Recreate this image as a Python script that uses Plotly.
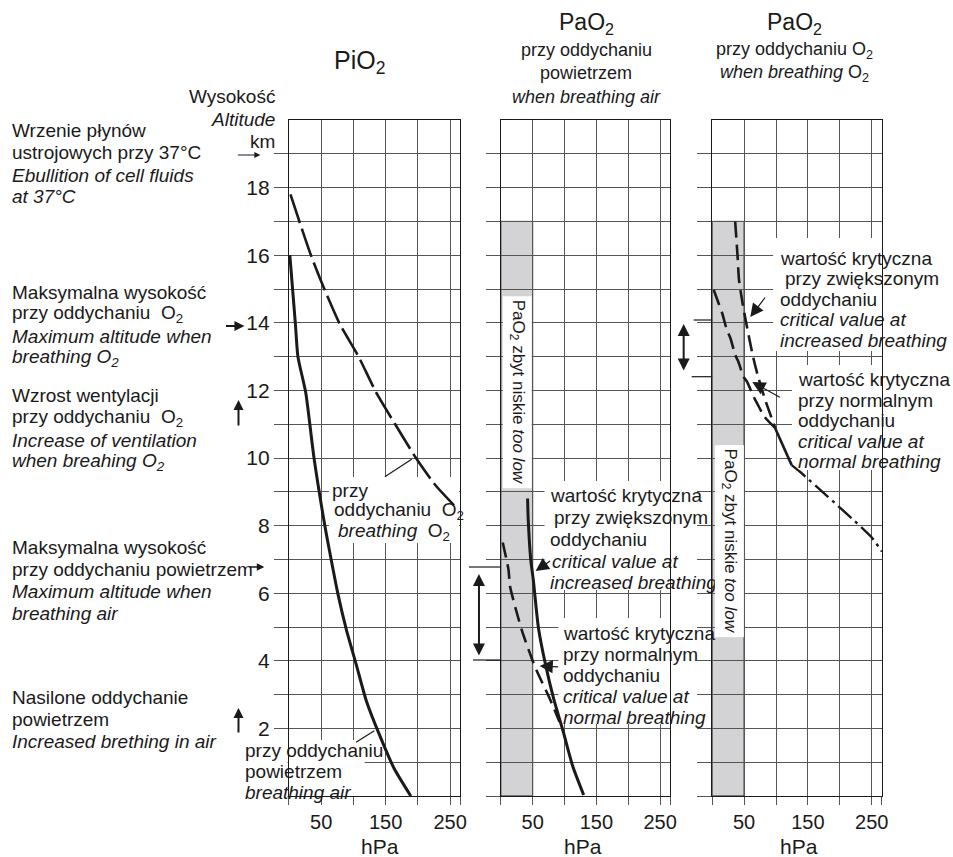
import plotly.graph_objects as go

# ---------------- data ----------------
altitude_labelled = [2, 4, 6, 8, 10, 12, 14, 16, 18]   # km, labelled ticks
altitude_grid = list(range(0, 20))                      # km, one grid line per km
pressure_labelled = [50, 150, 250]                      # hPa, labelled ticks
pressure_grid = [0, 100, 200, 266]                      # hPa, unlabelled ticks

# PiO2 – inspired O2 pressure
pio2_air_km = [16.0, 14.0, 13.0, 11.95, 10.0, 7.97, 6.95, 5.98, 4.93, 3.85, 2.82, 1.83, 0.82, 0.0]
pio2_air_hpa = [1.5, 10, 14, 26, 39, 56, 66, 76, 89, 105, 120, 140, 163, 189]
pio2_o2_km = [17.8, 16.06, 15.0, 13.96, 13.0, 11.95, 10.96, 10.0, 9.2, 8.6]
pio2_o2_hpa = [2.5, 33, 55, 79, 108, 135, 166, 197, 227, 256]

# PaO2 when breathing air
pao2_air_increased_km = [8.8, 8.17, 6.98, 6.39, 4.98, 3.9, 2.87, 1.9, 0.87, 0.03]
pao2_air_increased_hpa = [42, 43, 47, 51, 59, 70, 83, 98, 113, 130]
pao2_air_normal_km = [7.5, 6.7, 6.2, 4.9, 3.83, 2.87, 2.2]
pao2_air_normal_hpa = [3, 12, 14.5, 33, 53.5, 77, 92]

# PaO2 when breathing O2
pao2_o2_increased_km = [17.0, 15.9, 15.27, 14.53, 13.88, 13.0, 12.4, 11.72, 11.03, 10.89]
pao2_o2_increased_hpa = [36, 40, 42, 48, 54.5, 64, 72, 83, 96, 98.5]
pao2_o2_normal_km = [14.97, 14.58, 14.29, 13.79, 13.55, 13.05, 12.85, 12.41, 12.26, 11.81, 11.63, 11.22, 10.89]
pao2_o2_normal_hpa = [2.5, 10, 15.6, 23, 28.5, 36, 41, 49, 54.5, 65, 70, 82, 98.5]
pao2_o2_joint_km = [10.89, 9.79]
pao2_o2_joint_hpa = [98.5, 124.5]
pao2_o2_tail_km = [9.79, 9.6, 8.86, 8.31, 7.67, 7.23]
pao2_o2_tail_hpa = [124.5, 137, 181, 213, 249, 266]

# too-low PaO2 band
lowband_hpa = 50
lowband_top_km = 17

# ---------------- layout helpers ----------------
W, H = 953, 857
BODY = "Liberation Sans, Arial, sans-serif"
INK = "#1a1a1a"
GRID = "#555555"

PANEL_LEFT = [290.7, 504.0, 716.7]
PANEL_SCALE = [0.6492, 0.6412, 0.6424]   # px per hPa
HPA_MAX = 266
Y_TOP, Y_BOT = 120.0, 796.0
KM_MAX = 20


def fx(x):
    return x / W


def fy(y):
    return 1 - y / H


def to_hpa(i, x):
    return (x - PANEL_LEFT[i]) / PANEL_SCALE[i]


def to_km(y):
    return (Y_BOT - y) / (Y_BOT - Y_TOP) * KM_MAX


fig = go.Figure()

axref = [("x", "y"), ("x2", "y2"), ("x3", "y3")]


def curve(i, hpa, km, dash="solid", width=3):
    xa, ya = axref[i]
    fig.add_trace(go.Scatter(
        x=hpa, y=km, xaxis=xa, yaxis=ya, mode="lines",
        line=dict(color=INK, width=width, dash=dash, shape="spline", smoothing=0.6),
        hoverinfo="skip", showlegend=False))


curve(0, pio2_air_hpa, pio2_air_km)
curve(0, pio2_o2_hpa, pio2_o2_km, dash="30px,6px", width=2.6)
curve(1, pao2_air_increased_hpa, pao2_air_increased_km)
curve(1, pao2_air_normal_hpa, pao2_air_normal_km, dash="15px,7px", width=2.6)
curve(2, pao2_o2_increased_hpa, pao2_o2_increased_km, dash="16px,7px", width=2.6)
curve(2, pao2_o2_normal_hpa, pao2_o2_normal_km, dash="16px,7px", width=2.6)
curve(2, pao2_o2_joint_hpa, pao2_o2_joint_km, width=2.6)
curve(2, pao2_o2_tail_hpa, pao2_o2_tail_km, dash="18px,5px,3px,5px", width=2.4)

# ---------------- axes ----------------
ydom = [fy(Y_BOT), fy(Y_TOP)]
for i in range(3):
    L = PANEL_LEFT[i]
    R = L + HPA_MAX * PANEL_SCALE[i]
    sfx = "" if i == 0 else str(i + 1)
    fig.layout["xaxis" + sfx] = dict(
        domain=[fx(L), fx(R)], range=[0, HPA_MAX], anchor="y" + sfx,
        tickmode="array", tickvals=pressure_labelled,
        ticks="outside", ticklen=8, tickcolor=GRID, tickwidth=1,
        tickfont=dict(family=BODY, size=20, color=INK),
        minor=dict(tickmode="array", tickvals=pressure_grid, ticks="outside", ticklen=8,
                   tickcolor=GRID, tickwidth=1, showgrid=True, gridcolor=GRID, gridwidth=1),
        showgrid=True, gridcolor=GRID, gridwidth=1, zeroline=False,
        showline=True, mirror=True, linecolor=INK, linewidth=1.2, fixedrange=True)
    fig.layout["yaxis" + sfx] = dict(
        domain=ydom, range=[0, KM_MAX], anchor="x" + sfx,
        tickmode="array", tickvals=altitude_labelled, showticklabels=(i == 0),
        ticks="outside", ticklen=14, tickcolor=GRID, tickwidth=1,
        tickfont=dict(family=BODY, size=21, color=INK),
        minor=dict(tickmode="array", tickvals=altitude_grid, ticks="outside", ticklen=14,
                   tickcolor=GRID, tickwidth=1, showgrid=True, gridcolor=GRID, gridwidth=1),
        showgrid=True, gridcolor=GRID, gridwidth=1, zeroline=False,
        showline=True, mirror=True, linecolor=INK, linewidth=1.2, fixedrange=True)

# ---------------- shapes ----------------
shapes = []
for i in (1, 2):
    xa, ya = axref[i]
    shapes.append(dict(type="rect", xref=xa, yref=ya, x0=0, x1=lowband_hpa, y0=0,
                       y1=lowband_top_km, fillcolor="#d3d3d5",
                       line=dict(color=INK, width=1), layer="below"))


def white_box(i, x0, y0, x1, y1):
    xa, ya = axref[i]
    shapes.append(dict(type="rect", xref=xa, yref=ya,
                       x0=max(0, to_hpa(i, x0)), x1=min(HPA_MAX, to_hpa(i, x1)),
                       y0=max(0, to_km(y1)), y1=min(KM_MAX, to_km(y0)),
                       fillcolor="white", line=dict(width=0), layer="between"))


white_box(0, 331, 477, 462, 543)
white_box(0, 243, 740, 367, 800)
white_box(1, 548, 481, 676, 590)
white_box(1, 562, 618, 676, 724)
white_box(2, 778, 238, 890, 351)
white_box(2, 797, 365, 890, 470)
# white patch left of the first panel under its lower label
shapes.append(dict(type="rect", xref="paper", yref="paper", x0=fx(243), x1=fx(289.3),
                   y0=fy(800), y1=fy(740), fillcolor="white", line=dict(width=0), layer="above"))


def seg(x0, y0, x1, y1, w=1.2):
    shapes.append(dict(type="line", xref="paper", yref="paper",
                       x0=fx(x0), y0=fy(y0), x1=fx(x1), y1=fy(y1),
                       line=dict(color=INK, width=w), layer="above"))


# leader lines
seg(387.3, 476.7, 414.3, 459.3)
seg(358.3, 742.3, 376.7, 730.7)
# level markers beside the double arrows
seg(472, 567, 504, 567)
seg(476, 660, 504, 660)
seg(698, 320, 716.7, 320)
seg(696, 376.7, 716.7, 376.7)

fig.update_layout(shapes=shapes)

# ---------------- text ----------------
ann = []


def txt(x, y, s, anchor="left", size=19, family=BODY):
    ann.append(dict(x=fx(x), y=fy(y), xref="paper", yref="paper", text=s, showarrow=False,
                    xanchor=anchor, yanchor="middle",
                    font=dict(family=family, size=size, color=INK)))


def arrow(xh, yh, xt, yt, w=1.5, size=1.0, head=2, both=False):
    d = dict(x=fx(xh), y=fy(yh), xref="paper", yref="paper", text="", showarrow=True,
             ax=xt - xh, ay=yt - yh, arrowhead=head, arrowsize=size, arrowwidth=w,
             arrowcolor=INK, standoff=0, startstandoff=0)
    if both:
        d.update(arrowside="end+start", startarrowhead=head, startarrowsize=size)
    ann.append(d)


# titles
txt(362, 62, "PiO<sub>2</sub>", "center", 25)
txt(590, 24, "PaO<sub>2</sub>", "center", 23)
txt(590, 50, "przy oddychaniu", "center", 18)
txt(590, 73, "powietrzem", "center", 18)
txt(590, 97, "<i>when breathing air</i>", "center", 18)
txt(800, 24, "PaO<sub>2</sub>", "center", 23)
txt(800, 50, "przy oddychaniu O<sub>2</sub>", "center", 18)
txt(800, 74, "<i>when breathing</i> O<sub>2</sub>", "center", 18)

# altitude axis caption
txt(279, 97, "Wysokość", "right")
txt(279, 119, "<i>Altitude</i>", "right")
txt(279, 141, "km", "right")

# hPa captions
for cx in (382, 587, 804):
    txt(cx, 846, "hPa", "center", 21)

# left-hand descriptions
left_blocks = [
    (131, ["Wrzenie płynów", "ustrojowych przy 37°C",
           "<i>Ebullition of cell fluids</i>", "<i>at 37°C</i>"]),
    (292, ["Maksymalna wysokość", "przy oddychaniu  O<sub>2</sub>",
           "<i>Maximum altitude when</i>", "<i>breathing O<sub>2</sub></i>"]),
    (396, ["Wzrost wentylacji", "przy oddychaniu  O<sub>2</sub>",
           "<i>Increase of ventilation</i>", "<i>when breahing O<sub>2</sub></i>"]),
    (547, ["Maksymalna wysokość", "przy oddychaniu powietrzem",
           "<i>Maximum altitude when</i>", "<i>breathing air</i>"]),
    (697, ["Nasilone oddychanie", "powietrzem", "<i>Increased brething in air</i>"]),
]
for y0, lines in left_blocks:
    for k, s in enumerate(lines):
        txt(10, y0 + 22 * k, s)

# labels inside the PiO2 panel
txt(352, 490, "przy", "center")
txt(334, 511, "oddychaniu  O<sub>2</sub>")
txt(338, 532, "<i>breathing</i>  O<sub>2</sub>")
txt(245, 750, "przy oddychaniu")
txt(245, 771, "powietrzem")
txt(245, 792, "<i>breathing air</i>")


# critical-value notes
def note(x, y0, lines, step=21):
    for k, (dx, s) in enumerate(lines):
        txt(x + dx, y0 + step * k, s)


note(551, 496, [(0, "wartość krytyczna"), (4, "przy zwiększonym"), (0, "oddychaniu"),
                (2, "<i>critical value at</i>"), (0, "<i>increased breathing</i>")], 21.7)
note(565, 633, [(0, "wartość krytyczna"), (0, "przy normalnym"), (0, "oddychaniu"),
                (0, "<i>critical value at</i>"), (0, "<i>normal breathing</i>")], 21)
note(783, 258, [(0, "wartość krytyczna"), (5, "przy zwiększonym"), (0, "oddychaniu"),
                (0, "<i>critical value at</i>"), (0, "<i>increased breathing</i>")], 20.5)
note(801, 380, [(0, "wartość krytyczna"), (0, "przy normalnym"), (0, "oddychaniu"),
                (0, "<i>critical value at</i>"), (0, "<i>normal breathing</i>")], 20.5)

# rotated labels inside the grey band
for cx, cy in ((520.5, 392), (734, 541)):
    ann.append(dict(x=fx(cx), y=fy(cy), xref="paper", yref="paper",
                    text="PaO<sub>2</sub> zbyt niskie <i>too low</i>", showarrow=False,
                    textangle=90, xanchor="center", yanchor="middle",
                    font=dict(family=BODY, size=17, color=INK), bgcolor="white", borderpad=3))

# arrows on the left
arrow(262, 155, 238, 155, w=1.2, size=1.0)
arrow(246, 326, 226, 326, w=2.0, size=1.0)
arrow(240, 400, 240, 427, w=2.0, size=1.0)
arrow(266, 567, 250, 567, w=1.5, size=1.0)
arrow(240, 708, 240, 734, w=2.0, size=1.0)
# double arrows beside panels
arrow(482, 574, 482, 657, w=2.0, size=1.2, both=True)
arrow(688, 324, 688, 372, w=2.0, size=1.2, both=True)
# pointers to the curves
arrow(539, 571, 555, 560, w=1.2, size=2.2)
arrow(543, 666, 563, 667, w=1.2, size=2.2)
arrow(755, 317, 771, 296, w=1.2, size=2.2)
arrow(757, 382, 786, 398, w=1.2, size=2.2)

fig.update_layout(
    annotations=ann,
    width=W, height=H, margin=dict(l=0, r=0, t=0, b=0),
    paper_bgcolor="white", plot_bgcolor="white", showlegend=False,
)

fig.write_html("out.html", config={"displayModeBar": False})
